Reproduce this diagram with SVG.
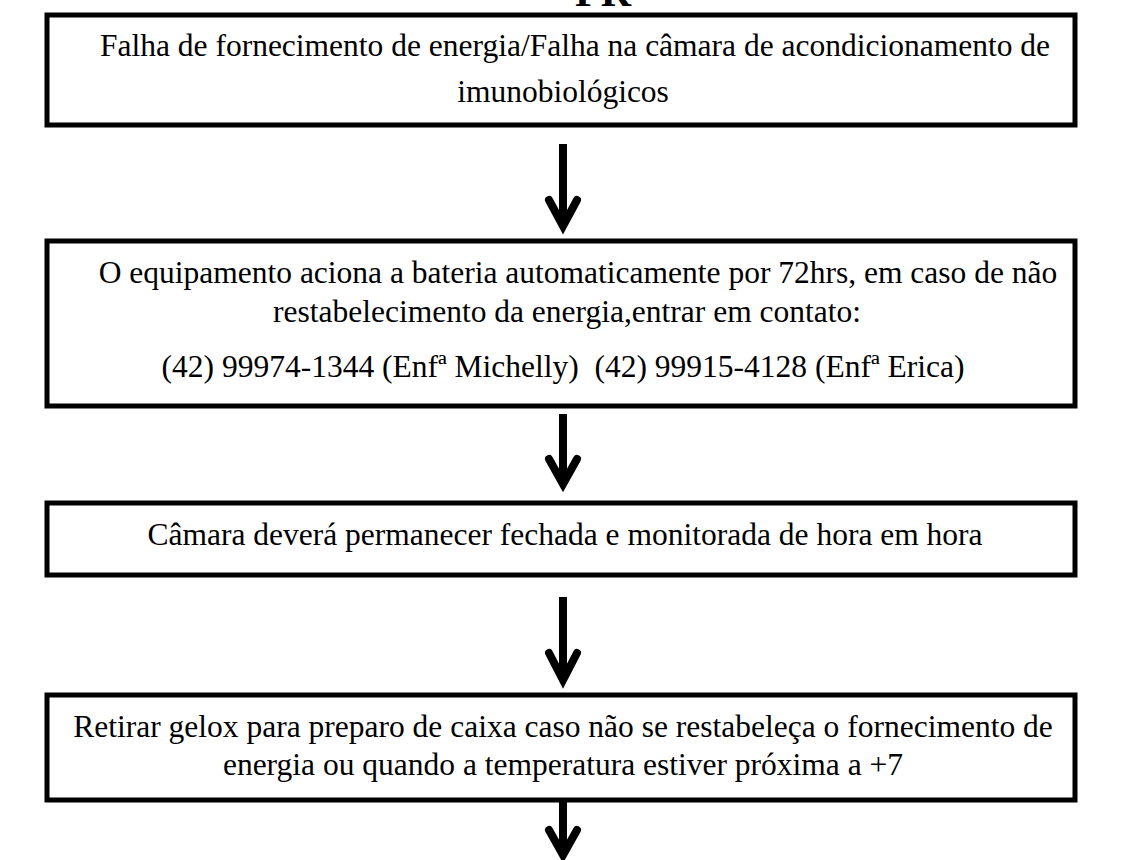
<svg xmlns="http://www.w3.org/2000/svg" width="1123" height="860" viewBox="0 0 1123 860">
<style>
.box{fill:#fff;stroke:#000;stroke-width:5}
.t{font-family:"Liberation Serif","Times New Roman",serif;font-size:31.5px;fill:#000;text-anchor:middle}
.arr{fill:none;stroke:#000;stroke-width:8;stroke-linecap:round;stroke-linejoin:miter}
.shaft{fill:none;stroke:#000;stroke-width:8}
</style>
<rect width="1123" height="860" fill="#fff"/>
<text x="603" y="6" style="font-family:'Liberation Serif',serif;font-size:42px;font-weight:bold;text-anchor:middle">PR</text>
<g id="n1">
<rect class="box" x="47" y="15" width="1028" height="110"/>
<text class="t" x="575" y="56">Falha de fornecimento de energia/Falha na câmara de acondicionamento de</text>
<text class="t" x="563" y="102">imunobiológicos</text>
</g>
<g id="n2">
<rect class="box" x="47" y="241" width="1028" height="165"/>
<text class="t" x="578" y="283">O equipamento aciona a bateria automaticamente por 72hrs, em caso de não</text>
<text class="t" x="567" y="322">restabelecimento da energia,entrar em contato:</text>
<text class="t" x="563" y="377" xml:space="preserve">(42) 99974-1344 (Enfª Michelly)  (42) 99915-4128 (Enfª Erica)</text>
</g>
<g id="n3">
<rect class="box" x="47" y="503" width="1028" height="72"/>
<text class="t" x="565" y="545">Câmara deverá permanecer fechada e monitorada de hora em hora</text>
</g>
<g id="n4">
<rect class="box" x="47" y="695" width="1028" height="105"/>
<text class="t" x="563" y="737">Retirar gelox para preparo de caixa caso não se restabeleça o fornecimento de</text>
<text class="t" x="563" y="775">energia ou quando a temperatura estiver próxima a +7</text>
</g>
<g id="connectors">
<line class="shaft" x1="563" y1="144" x2="563" y2="224"/>
<polyline class="arr" points="549,200 563,226 577,200"/>
<line class="shaft" x1="563" y1="414" x2="563" y2="482"/>
<polyline class="arr" points="549,459 563,484 577,459"/>
<line class="shaft" x1="563" y1="597" x2="563" y2="678"/>
<polyline class="arr" points="549,653 563,680 577,653"/>
<line class="shaft" x1="563" y1="800" x2="563" y2="852"/>
<polyline class="arr" points="549,830 563,855 577,830"/>
</g>
</svg>
